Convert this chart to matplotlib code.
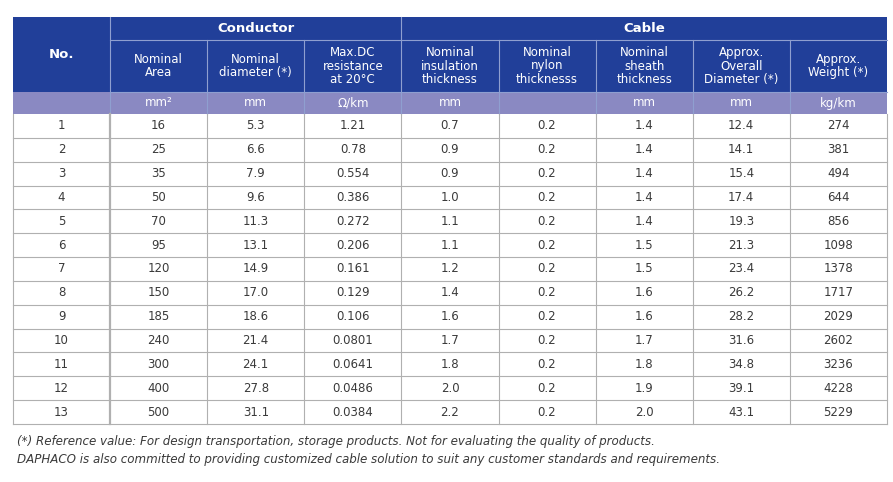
import matplotlib.pyplot as plt
from matplotlib.patches import Rectangle

plt.rcParams['font.family'] = ['DejaVu Sans']

nums = [str(i) for i in range(1, 14)]
area = ["16", "25", "35", "50", "70", "95", "120", "150", "185", "240", "300", "400", "500"]
diam = ["5.3", "6.6", "7.9", "9.6", "11.3", "13.1", "14.9", "17.0", "18.6", "21.4", "24.1", "27.8", "31.1"]
resist = ["1.21", "0.78", "0.554", "0.386", "0.272", "0.206", "0.161", "0.129", "0.106", "0.0801", "0.0641", "0.0486", "0.0384"]
insul = ["0.7", "0.9", "0.9", "1.0", "1.1", "1.1", "1.2", "1.4", "1.6", "1.7", "1.8", "2.0", "2.2"]
nylon = ["0.2"] * 13
sheath = ["1.4", "1.4", "1.4", "1.4", "1.4", "1.5", "1.5", "1.6", "1.6", "1.7", "1.8", "1.9", "2.0"]
overall = ["12.4", "14.1", "15.4", "17.4", "19.3", "21.3", "23.4", "26.2", "28.2", "31.6", "34.8", "39.1", "43.1"]
weight = ["274", "381", "494", "644", "856", "1098", "1378", "1717", "2029", "2602", "3236", "4228", "5229"]

subheads = ["Nominal\nArea", "Nominal\ndiameter (*)", "Max.DC\nresistance\nat 20°C",
            "Nominal\ninsulation\nthickness", "Nominal\nnylon\nthicknesss", "Nominal\nsheath\nthickness",
            "Approx.\nOverall\nDiameter (*)", "Approx.\nWeight (*)"]
units = ["", "mm²", "mm", "Ω/km", "mm", "", "mm", "mm", "kg/km"]
columns = [nums, area, diam, resist, insul, nylon, sheath, overall, weight]

blue = "#213f99"
purple = "#8a89c2"
grid = "#b0b0b0"
txt = "#3a3a3a"

fig = plt.figure(figsize=(8.93, 4.82), dpi=100)
ax = fig.add_axes([0, 0, 1, 1])
ax.set_xlim(0, 893)
ax.set_ylim(482, 0)
ax.axis("off")

x0, cw = 13, 97.1
ncol = len(columns)
xs = [x0 + i * cw for i in range(ncol + 1)]
y_top, y_h1, y_h2, y_u = 17, 40, 92, 114
rh = (424 - y_u) / 13

# header backgrounds
ax.add_patch(Rectangle((x0, y_top), xs[-1] - x0, y_u - y_top, color=blue, lw=0))
ax.add_patch(Rectangle((x0, y_h2), xs[-1] - x0, y_u - y_h2, color=purple, lw=0))
hl = "#8f9fd0"
ax.plot([xs[1], xs[-1]], [y_h1, y_h1], color=hl, lw=0.8)
ax.plot([xs[1], xs[-1]], [y_h2, y_h2], color=hl, lw=0.8)
for i in range(1, ncol):
    ytop = y_top if i in (1, 4) else y_h1
    ax.plot([xs[i], xs[i]], [ytop, y_u], color=hl, lw=0.8)

ax.text((xs[0] + xs[1]) / 2, (y_top + y_h2) / 2, "No.", color="white", fontsize=9.5,
        fontweight="bold", ha="center", va="center")
ax.text((xs[1] + xs[4]) / 2, (y_top + y_h1) / 2, "Conductor", color="white", fontsize=9.5,
        fontweight="bold", ha="center", va="center")
ax.text((xs[4] + xs[-1]) / 2, (y_top + y_h1) / 2, "Cable", color="white", fontsize=9.5,
        fontweight="bold", ha="center", va="center")
for i, s in enumerate(subheads):
    ax.text((xs[i + 1] + xs[i + 2]) / 2, (y_h1 + y_h2) / 2, s, color="white", fontsize=8.5,
            ha="center", va="center", linespacing=1.05)
for i, s in enumerate(units):
    ax.text((xs[i] + xs[i + 1]) / 2, (y_h2 + y_u) / 2, s, color="white", fontsize=8.5,
            ha="center", va="center")

# body
for r in range(13):
    yc = y_u + (r + 0.5) * rh
    for c, col in enumerate(columns):
        ax.text((xs[c] + xs[c + 1]) / 2, yc, col[r], color=txt, fontsize=8.5,
                ha="center", va="center")
    ax.plot([x0, xs[-1]], [y_u + (r + 1) * rh] * 2, color=grid, lw=0.8)
for i in range(ncol + 1):
    ax.plot([xs[i], xs[i]], [y_u, 424], color=grid, lw=1.6 if i == 1 else 0.8)

ax.text(17, 441, "(*) Reference value: For design transportation, storage products. Not for evaluating the quality of products.",
        fontsize=8.6, style="italic", color=txt, va="center")
ax.text(17, 460, "DAPHACO is also committed to providing customized cable solution to suit any customer standards and requirements.",
        fontsize=8.6, style="italic", color=txt, va="center")

fig.savefig("out.png", dpi=100)
